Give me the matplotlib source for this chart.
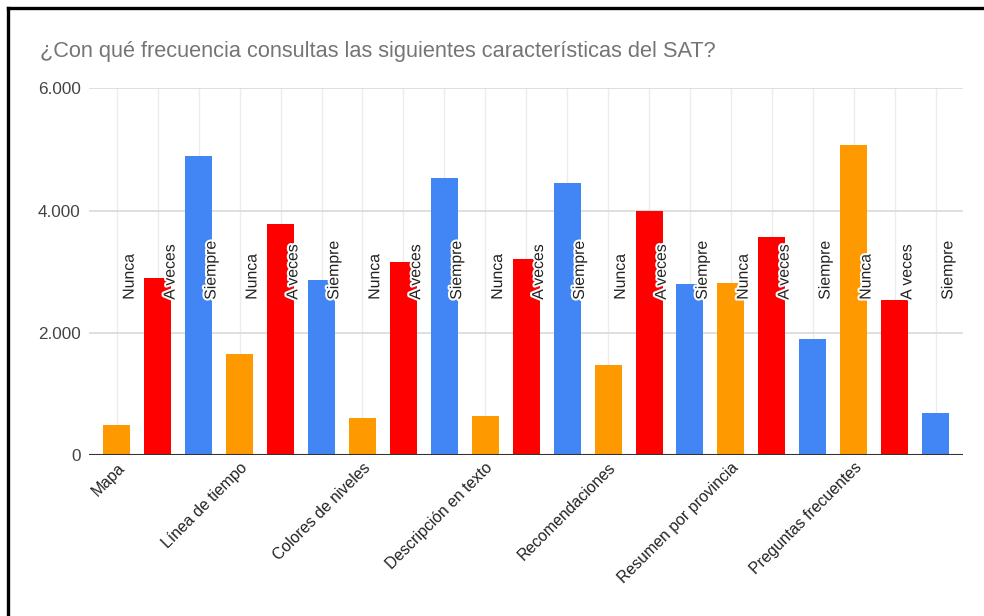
import matplotlib
matplotlib.use("Agg")
import matplotlib.pyplot as plt
import matplotlib.patheffects as pe
from matplotlib.lines import Line2D
from matplotlib.transforms import ScaledTranslation

plt.rcParams['font.family'] = ['Liberation Sans', 'DejaVu Sans']

title = "¿Con qué frecuencia consultas las siguientes características del SAT?"
categories = ["Mapa", "Línea de tiempo", "Colores de niveles", "Descripción en texto",
              "Recomendaciones", "Resumen por provincia", "Preguntas frecuentes"]
series_names = ["Nunca", "A veces", "Siempre"]
nunca = [490, 1650, 600, 640, 1480, 2820, 5070]
a_veces = [2890, 3780, 3150, 3200, 4000, 3560, 2540]
siempre = [4890, 2870, 4540, 4450, 2800, 1890, 690]
colors = ["#ff9900", "#ff0000", "#4285f4"]
label_level = 2540
y_ticks = [0, 2000, 4000, 6000]
y_ticklabels = ["0", "2.000", "4.000", "6.000"]

fig = plt.figure(figsize=(9.84, 6.16), dpi=100)
ax = fig.add_axes([89 / 984, 1 - 455 / 616, (963 - 89) / 984, (455 - 88.3) / 616])

series = [nunca, a_veces, siempre]
n_series = len(series)
positions = []
for ci in range(len(categories)):
    for si in range(n_series):
        x = ci * n_series + si
        positions.append(x)
        ax.bar(x, series[si][ci], width=0.66, color=colors[si], zorder=3)
        ax.text(x + 0.3, label_level, series_names[si], rotation=90,
                ha="center", va="bottom", fontsize=11.4, color="#222222", zorder=5,
                path_effects=[pe.withStroke(linewidth=3, foreground="white")])

ax.set_xlim(-0.68, positions[-1] + 0.67)
ax.set_ylim(0, 6000)

# vertical guide lines at every bar position
for x in positions:
    ax.axvline(x, color="#ececec", linewidth=1, zorder=1)
ax.set_yticks(y_ticks)
ax.set_yticklabels(y_ticklabels)
for y in y_ticks[1:]:
    ax.axhline(y, color="#d9d9d9", linewidth=1.2, zorder=2)
ax.axhline(0, color="#333333", linewidth=1.5, zorder=4)

ax.set_xticks([ci * n_series for ci in range(len(categories))])
ax.set_xticklabels(categories, rotation=45, ha="right", va="top",
                   rotation_mode="anchor", fontsize=11.4, color="#222222")
offset = ScaledTranslation(7 / 100, -15 / 100, fig.dpi_scale_trans)
for lbl in ax.get_xticklabels():
    lbl.set_transform(lbl.get_transform() + offset)

ax.tick_params(axis="both", length=0)
ax.tick_params(axis="y", labelsize=12.3, labelcolor="#444444", pad=6)
for s in ax.spines.values():
    s.set_visible(False)

fig.text(40 / 984, 1 - 57 / 616, title, fontsize=15.7, color="#757575",
         ha="left", va="baseline")

# frame on the left and top edges
fig.add_artist(Line2D([8 / 984, 8 / 984], [0, 1 - 8 / 616], transform=fig.transFigure,
                      color="black", linewidth=2.4))
fig.add_artist(Line2D([8 / 984, 1], [1 - 8 / 616, 1 - 8 / 616], transform=fig.transFigure,
                      color="black", linewidth=2.4))

fig.savefig("out.png", dpi=100)
